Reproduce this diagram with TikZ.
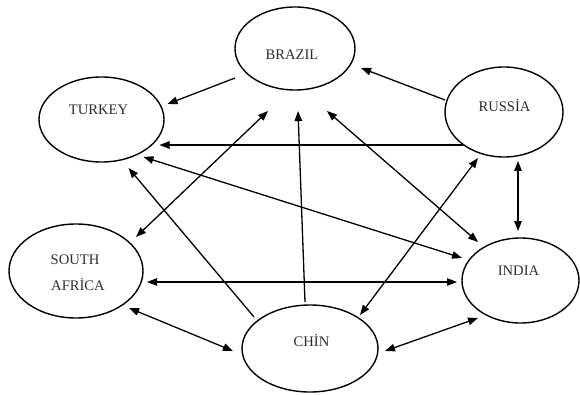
\documentclass[tikz,border=0pt]{standalone}
\usepackage{fontspec}
\setmainfont{Liberation Serif}
\usetikzlibrary{arrows.meta,calc,shapes.geometric}
\definecolor{labelgray}{RGB}{45,45,45}
\tikzset{
  country/.style={draw=black, line width=1.4pt, ellipse, inner sep=0pt},
  cname/.style={anchor=base, inner sep=0pt, text=labelgray, font=\fontsize{14.6}{17}\selectfont},
  link/.style={line width=1.3pt, -{Triangle[length=10pt,width=7.5pt]}},
  both/.style={line width=1.3pt, {Triangle[length=10pt,width=7.5pt]}-{Triangle[length=10pt,width=7.5pt]}}
}
\begin{document}
\begin{tikzpicture}[x=1pt,y=-1pt]
  \useasboundingbox (0,0) rectangle (580,395);

  % countries
  \node[country, minimum width=120pt, minimum height=83pt]  (brazil) at (295,48.5) {};
  \node[country, minimum width=125pt, minimum height=85pt]  (turkey) at (101.5,119.5) {};
  \node[country, minimum width=118pt, minimum height=90pt]  (russia) at (504,112) {};
  \node[country, minimum width=134pt, minimum height=94pt]  (safrica) at (76,271) {};
  \node[country, minimum width=117pt, minimum height=85pt]  (india) at (520.5,280.5) {};
  \node[country, minimum width=136pt, minimum height=87pt]  (chin) at (310,348.5) {};

  % country names
  \node[cname] (tBrazil) at (292,60) {BRAZIL};
  \node[cname] (tTurkey) at (98.5,115) {TURKEY};
  \node[cname] (tRussia) at (504.5,112) {RUSSİA};
  \node[cname] (tSouth) at (75,264) {SOUTH};
  \node[cname] (tAfrica) at (78,290) {AFRİCA};
  \node[cname] (tIndia) at (518.5,275) {INDIA};
  \node[cname] (tChin) at (311.5,346) {CHİN};

  % one-way relations
  \draw[link] ($(brazil)+(-60,29.5)$) -- ($(turkey)+(66,-15.5)$);
  \draw[link] ($(russia)+(-59,-12)$) -- ($(brazil)+(66,19.5)$);
  \draw[link] ($(russia)+(-41,33)$) -- ($(turkey)+(58,25.5)$);
  \draw[link] ($(chin)+(-56,-31.5)$) -- ($(turkey)+(27,48.5)$);
  \draw[link] ($(chin)+(-5,-46.5)$) -- ($(brazil)+(3,62.5)$);

  % two-way relations
  \draw[both] ($(safrica)+(60,-34)$) -- ($(brazil)+(-27,62.5)$);
  \draw[both] ($(turkey)+(42,37.5)$) -- ($(india)+(-58.5,-22.5)$);
  \draw[both] ($(brazil)+(32,62.5)$) -- ($(india)+(-42.5,-38.5)$);
  \draw[both] ($(chin)+(50,-33.5)$) -- ($(russia)+(-26,46)$);
  \draw[both] ($(russia)+(14,49)$) -- ($(india)+(-2.5,-49.5)$);
  \draw[both] ($(safrica)+(71,11)$) -- ($(india)+(-63.5,1.5)$);
  \draw[both] ($(safrica)+(53,37)$) -- ($(chin)+(-77,2.5)$);
  \draw[both] ($(chin)+(75,2.5)$) -- ($(india)+(-42.5,37.5)$);
\end{tikzpicture}
\end{document}
